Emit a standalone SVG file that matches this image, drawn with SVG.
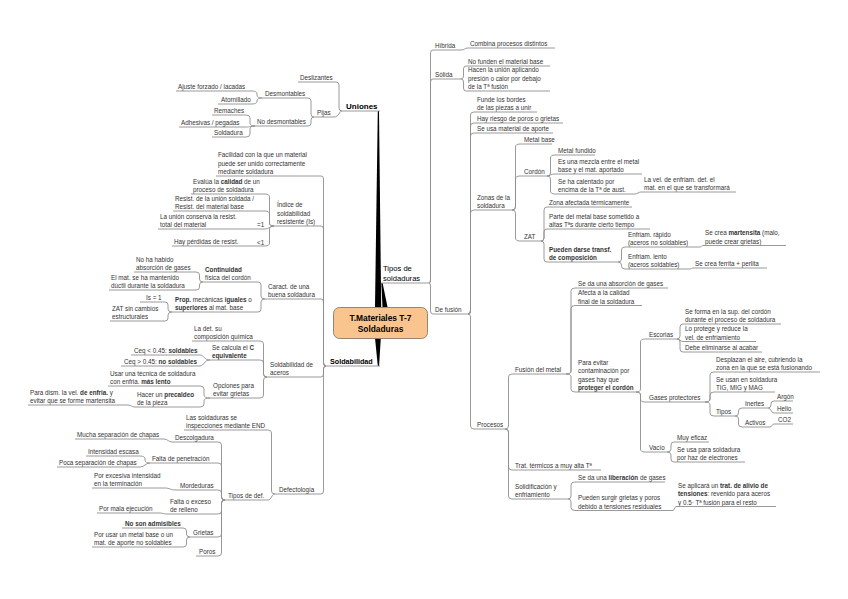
<svg xmlns="http://www.w3.org/2000/svg" width="848" height="599" viewBox="0 0 848 599">
<style>
text{font-family:"Liberation Sans",Arial,sans-serif;font-size:6.3px;fill:#333}
.b{font-weight:bold}
.big{font-size:7.6px;fill:#000}
.u{stroke:#8f8f8f;stroke-width:0.9;fill:none}
.c path{stroke:#8f8f8f;stroke-width:0.9;fill:none}
.trunk{fill:#000}
</style>
<rect width="848" height="599" fill="#fff"/>
<g id="connectors">
<g class="trunks">
<polygon class="trunk" points="377.8,111 379,111 381.2,307 375,307"/>
<polygon class="trunk" points="381.3,283 382.6,283 387.5,307 382.5,307"/>
<polygon class="trunk" points="375,338 380.8,338 379.1,366 377.8,366"/>
</g>
<g class="c">
<path d="M342,111 Q339,111 339,108 V85 Q339,82 336,82"/>
<path d="M342,111 C339,111 339,117 334,117"/>
<path d="M314,117 Q311,117 311,114 V101 Q311,98 308,98"/>
<path d="M314,117 Q311,117 311,120 V123 Q311,126 308,126"/>
<path d="M262,98 Q257,98 257,95 V94 Q257,91 252,91"/>
<path d="M262,98 Q257,98 257,101 Q257,104 252,104"/>
<path d="M255,126 Q250,126 250,123 V118 Q250,115 246,115"/>
<path d="M255,126 C250,126 250,127 246,127"/>
<path d="M255,126 Q250,126 250,129 V134 Q250,137 246,137"/>
<path d="M326,366 Q323.5,366 323.5,363 V179 Q323.5,176 321,176"/>
<path d="M326,366 Q323.5,366 323.5,363 V229 Q323.5,226 321,226"/>
<path d="M326,366 Q323.5,366 323.5,363 V302 Q323.5,299 321,299"/>
<path d="M326,366 Q323.5,366 323.5,369 V374 Q323.5,377 321,377"/>
<path d="M326,366 Q323.5,366 323.5,369 V491 Q323.5,494 321,494"/>
<path d="M274,226 Q269.5,226 269.5,223 V197 Q269.5,194 265,194"/>
<path d="M274,226 Q269.5,226 269.5,223 V214 Q269.5,211 265,211"/>
<path d="M274,226 C269.5,226 269.5,229 265,229"/>
<path d="M274,226 Q269.5,226 269.5,229 V243 Q269.5,246 265,246"/>
<path d="M265,299 Q261,299 261,296 V285 Q261,282 258,282"/>
<path d="M265,299 Q261,299 261,302 V309 Q261,312 258,312"/>
<path d="M203,282 Q199.5,282 199.5,279 V275 Q199.5,272 196,272"/>
<path d="M203,282 Q199.5,282 199.5,285 V287 Q199.5,290 196,290"/>
<path d="M172,312 Q168,312 168,309 V305 Q168,302 165,302"/>
<path d="M172,312 Q168,312 168,315 V318 Q168,321 165,321"/>
<path d="M267,377 Q263.5,377 263.5,374 V344 Q263.5,341 260,341"/>
<path d="M267,377 Q263.5,377 263.5,374 V363 Q263.5,360 260,360"/>
<path d="M267,377 Q263.5,377 263.5,380 V395 Q263.5,398 260,398"/>
<path d="M210,360 C204,360 204,355 200,355"/>
<path d="M210,360 C204,360 204,366 200,366"/>
<path d="M210,398 Q204,398 204,395 V389 Q204,386 200,386"/>
<path d="M210,398 Q204,398 204,401 V404 Q204,407 200,407"/>
<path d="M135,407 C131,407 132,405 128,405"/>
<path d="M275,494 Q271.5,494 271.5,491 V433 Q271.5,430 268,430"/>
<path d="M275,494 C271.5,494 271.5,500 268,500"/>
<path d="M225,500 Q221.5,500 221.5,497 V445 Q221.5,442 218,442"/>
<path d="M225,500 Q221.5,500 221.5,497 V466 Q221.5,463 218,463"/>
<path d="M225,500 Q221.5,500 221.5,497 V493 Q221.5,490 218,490"/>
<path d="M225,500 Q221.5,500 221.5,503 V511 Q221.5,514 218,514"/>
<path d="M225,500 Q221.5,500 221.5,503 V534 Q221.5,537 218,537"/>
<path d="M225,500 Q221.5,500 221.5,503 V553 Q221.5,556 218,556"/>
<path d="M172,442 C168,442 168,439 164,439"/>
<path d="M150,463 Q145,463 145,460 V459 Q145,456 140,456"/>
<path d="M150,463 C145,463 145,467 140,467"/>
<path d="M176,490 C170,490 170,488 165,488"/>
<path d="M167,514 C163,514 163,513 160,513"/>
<path d="M190,537 Q186.5,537 186.5,534 V531 Q186.5,528 183,528"/>
<path d="M190,537 Q186.5,537 186.5,540 V544 Q186.5,547 183,547"/>
<path d="M429,283 Q430.5,283 430.5,280 V53 Q430.5,50 433,50"/>
<path d="M429,283 Q430.5,283 430.5,280 V82 Q430.5,79 433,79"/>
<path d="M429,283 Q430.5,283 430.5,286 V311 Q430.5,314 433,314"/>
<path d="M461,50 C465,50 464,48 468,48"/>
<path d="M461,79 Q463.5,79 463.5,76 V69 Q463.5,66 466,66"/>
<path d="M461,79 Q463.5,79 463.5,82 V88 Q463.5,91 466,91"/>
<path d="M468,314 Q470.5,314 470.5,311 V115 Q470.5,112 474,112"/>
<path d="M468,314 Q470.5,314 470.5,311 V126 Q470.5,123 474,123"/>
<path d="M468,314 Q470.5,314 470.5,311 V136 Q470.5,133 474,133"/>
<path d="M468,314 Q470.5,314 470.5,311 V213 Q470.5,210 474,210"/>
<path d="M468,314 Q470.5,314 470.5,317 V426 Q470.5,429 474,429"/>
<path d="M512,210 Q515.5,210 515.5,207 V147 Q515.5,144 520,144"/>
<path d="M512,210 Q515.5,210 515.5,207 V179 Q515.5,176 520,176"/>
<path d="M512,210 Q515.5,210 515.5,213 V238 Q515.5,241 520,241"/>
<path d="M547,176 Q550.5,176 550.5,173 V158 Q550.5,155 555,155"/>
<path d="M547,176 C550.5,176 550.5,174 555,174"/>
<path d="M547,176 Q550.5,176 550.5,179 V191 Q550.5,194 555,194"/>
<path d="M635,194 C638,194 638,192 641,192"/>
<path d="M541,241 Q544,241 544,238 V210 Q544,207 547,207"/>
<path d="M541,241 Q544,241 544,238 V232 Q544,229 547,229"/>
<path d="M541,241 Q544,241 544,244 V259 Q544,262 547,262"/>
<path d="M618,262 Q621.5,262 621.5,259 V250 Q621.5,247 625,247"/>
<path d="M618,262 Q621.5,262 621.5,265 V266 Q621.5,269 625,269"/>
<path d="M700,247 C701.5,247 701.5,245.5 703,245.5"/>
<path d="M690,269 C691.5,269 691.5,268 693,268"/>
<path d="M505,429 Q508.5,429 508.5,426 V377 Q508.5,374 512,374"/>
<path d="M505,429 Q508.5,429 508.5,432 V467 Q508.5,470 512,470"/>
<path d="M505,429 Q508.5,429 508.5,432 V496 Q508.5,499 512,499"/>
<path d="M566,374 Q571,374 571,371 V291 Q571,288 575,288"/>
<path d="M566,374 Q571,374 571,371 V308.5 Q571,305.5 575,305.5"/>
<path d="M566,374 Q571,374 571,377 V389 Q571,392 575,392"/>
<path d="M636,392 Q640.5,392 640.5,389 V342 Q640.5,339 645,339"/>
<path d="M636,392 Q640.5,392 640.5,395 V399 Q640.5,402 645,402"/>
<path d="M636,392 Q640.5,392 640.5,395 V449 Q640.5,452 645,452"/>
<path d="M677,339 Q680,339 680,336 V327 Q680,324 683,324"/>
<path d="M677,339 C680,339 680,341.5 683,341.5"/>
<path d="M677,339 Q680,339 680,342 V349 Q680,352 683,352"/>
<path d="M705,402 Q710,402 710,399 V375 Q710,372 714,372"/>
<path d="M705,402 Q710,402 710,399 V395 Q710,392 714,392"/>
<path d="M705,402 Q710,402 710,405 V413 Q710,416 714,416"/>
<path d="M735,416 Q738.5,416 738.5,413 V411 Q738.5,408 742,408"/>
<path d="M735,416 Q738.5,416 738.5,419 V424 Q738.5,427 742,427"/>
<path d="M768,408 Q771,408 771,405 V404 Q771,401 774,401"/>
<path d="M768,408 C771,408 771,413 774,413"/>
<path d="M770,427 C772,427 772,424 774,424"/>
<path d="M667,452 Q671,452 671,449 V445 Q671,442 674,442"/>
<path d="M667,452 Q671,452 671,455 V459 Q671,462 674,462"/>
<path d="M568,499 Q571,499 571,496 V485 Q571,482 575,482"/>
<path d="M568,499 Q571,499 571,502 V507.5 Q571,510.5 575,510.5"/>
<path d="M673,510.5 C674.5,510.5 674.5,506.5 676,506.5"/>
</g>
</g>

<g id="n-central">
<rect x="333.5" y="307.5" width="94" height="31" rx="6" fill="#FAC48F" stroke="#8a7a6a" stroke-width="0.9"/>
<text x="380.5" y="321" text-anchor="middle" class="b" style="font-size:8.4px;fill:#000">T.Materiales T-7</text>
<text x="380.5" y="332" text-anchor="middle" class="b" style="font-size:8.4px;fill:#000">Soldaduras</text>
</g>

<!-- LEFT: Uniones -->
<g id="n-uniones"><text x="346" y="108.5" class="b big" style="font-size:8px">Uniones</text><path class="u" d="M342,111 H380"/></g>
<g id="n-deslizantes"><text x="300" y="80">Deslizantes</text><path class="u" d="M298,82 H336"/></g>
<g id="n-pijas"><text x="317" y="115">Pijas</text><path class="u" d="M314,117 H334"/></g>
<g id="n-desmontables"><text x="265" y="96">Desmontables</text><path class="u" d="M262,98 H308"/></g>
<g id="n-nodesmontables"><text x="257" y="124">No desmontables</text><path class="u" d="M255,126 H308"/></g>
<g id="n-ajuste"><text x="178" y="89">Ajuste forzado / lacadas</text><path class="u" d="M176,91 H252"/></g>
<g id="n-atornillado"><text x="221" y="102">Atornillado</text><path class="u" d="M218,104 H252"/></g>
<g id="n-remaches"><text x="214" y="113">Remaches</text><path class="u" d="M212,115 H246"/></g>
<g id="n-adhesivas"><text x="181" y="125">Adhesivas / pegadas</text><path class="u" d="M179,127 H246"/></g>
<g id="n-soldadura"><text x="214" y="135">Soldadura</text><path class="u" d="M212,137 H246"/></g>

<!-- LEFT: Soldabilidad -->
<g id="n-soldabilidad"><text x="330" y="364" class="b big" style="font-size:7.2px">Soldabilidad</text><path class="u" d="M326,366 H380"/></g>
<g id="n-facilidad"><text x="218" y="157">Facilidad con la que un material<tspan x="218" dy="8.5">puede ser unido correctamente</tspan><tspan x="218" dy="8.5">mediante soldadura</tspan></text><path class="u" d="M216,176 H321"/></g>
<g id="n-indice"><text x="277" y="207">Índice de<tspan x="277" dy="8.5">soldabilidad</tspan><tspan x="277" dy="8.5">resistente  (Is)</tspan></text><path class="u" d="M274,226 H321"/></g>
<g id="n-evalua"><text x="193" y="183.5">Evalúa la <tspan class="b">calidad</tspan> de un<tspan x="193" dy="8.5">proceso de soldadura</tspan></text><path class="u" d="M191,194 H265"/></g>
<g id="n-resist"><text x="175" y="200.5">Resist. de la unión soldada /<tspan x="175" dy="8.5">Resist. del material base</tspan></text><path class="u" d="M173,211 H265"/></g>
<g id="n-launion"><text x="160" y="218.5">La unión conserva la resist.<tspan x="160" dy="8.5">total del material</tspan></text><text x="257" y="227">=1</text><path class="u" d="M158,229 H265"/></g>
<g id="n-hayperdidas"><text x="174" y="244">Hay pérdidas de resist.</text><text x="257" y="244.5">&lt;1</text><path class="u" d="M172,246 H265"/></g>
<g id="n-caract"><text x="268" y="288.5">Caract. de una<tspan x="268" dy="8.5">buena soldadura</tspan></text><path class="u" d="M265,299 H321"/></g>
<g id="n-continuidad"><text x="205" y="271.5" class="b">Continuidad<tspan x="205" dy="8.5" style="font-weight:normal">física del cordón</tspan></text><path class="u" d="M203,282 H258"/></g>
<g id="n-nohahabido"><text x="136" y="261.5">No ha habido<tspan x="136" dy="8.5">absorción de gases</tspan></text><path class="u" d="M134,272 H196"/></g>
<g id="n-elmat"><text x="111" y="279.5">El mat. se ha mantenido<tspan x="111" dy="8.5">dúctil durante la soldadura</tspan></text><path class="u" d="M109,290 H196"/></g>
<g id="n-prop"><text x="175" y="301.5"><tspan class="b">Prop.</tspan> mecánicas <tspan class="b">iguales</tspan> o<tspan x="175" dy="8.5" class="b">superiores</tspan> al mat. base</text><path class="u" d="M172,312 H258"/></g>
<g id="n-is1"><text x="146" y="300">Is = 1</text><path class="u" d="M140,302 H165"/></g>
<g id="n-zatsin"><text x="112" y="310.5">ZAT sin cambios<tspan x="112" dy="8.5">estructurales</tspan></text><path class="u" d="M110,321 H165"/></g>
<g id="n-soldaceros"><text x="270" y="366.5">Soldabilidad de<tspan x="270" dy="8.5">aceros</tspan></text><path class="u" d="M267,377 H321"/></g>
<g id="n-ladet"><text x="194" y="330.5">La det. su<tspan x="194" dy="8.5">composición química</tspan></text><path class="u" d="M192,341 H260"/></g>
<g id="n-secalcula"><text x="212" y="349.5">Se calcula el <tspan class="b">C</tspan><tspan x="212" dy="8.5" class="b">equivalente</tspan></text><path class="u" d="M210,360 H260"/></g>
<g id="n-ceqmenor"><text x="134" y="353">Ceq &lt; 0.45:  <tspan class="b">soldables</tspan></text><path class="u" d="M131,355 H200"/></g>
<g id="n-ceqmayor"><text x="124" y="364">Ceq &gt; 0.45:  <tspan class="b">no soldables</tspan></text><path class="u" d="M121,366 H200"/></g>
<g id="n-opciones"><text x="213" y="387.5">Opciones para<tspan x="213" dy="8.5">evitar grietas</tspan></text><path class="u" d="M210,398 H260"/></g>
<g id="n-usar"><text x="110" y="375.5">Usar una técnica de soldadura<tspan x="110" dy="8.5">con enfria.  </tspan><tspan class="b">más lento</tspan></text><path class="u" d="M108,386 H200"/></g>
<g id="n-hacer"><text x="137" y="396.5">Hacer un <tspan class="b">precaldeo</tspan><tspan x="137" dy="8.5">de la pieza</tspan></text><path class="u" d="M135,407 H200"/></g>
<g id="n-paradism"><text x="30" y="394.5">Para dism. la vel. <tspan class="b">de enfria.</tspan>  y<tspan x="30" dy="8.5">evitar que se forme martensita</tspan></text><path class="u" d="M28,405 H128"/></g>
<g id="n-defectologia"><text x="279" y="492">Defectología</text><path class="u" d="M275,494 H321"/></g>
<g id="n-lassoldaduras"><text x="186" y="419.5">Las soldaduras se<tspan x="186" dy="8.5">inspecciones mediante END</tspan></text><path class="u" d="M184,430 H268"/></g>
<g id="n-tiposdef"><text x="228" y="498">Tipos de def.</text><path class="u" d="M225,500 H268"/></g>
<g id="n-descolgadura"><text x="175" y="440">Descolgadura</text><path class="u" d="M172,442 H218"/></g>
<g id="n-mucha"><text x="77" y="437">Mucha separación de chapas</text><path class="u" d="M75,439 H164"/></g>
<g id="n-faltapen"><text x="152" y="461">Falta de penetración</text><path class="u" d="M150,463 H218"/></g>
<g id="n-intensidad"><text x="88" y="454">Intensidad escasa</text><path class="u" d="M86,456 H140"/></g>
<g id="n-poca"><text x="59" y="465">Poca separación de chapas</text><path class="u" d="M57,467 H140"/></g>
<g id="n-mordeduras"><text x="180" y="488">Mordeduras</text><path class="u" d="M176,490 H218"/></g>
<g id="n-porexcesiva"><text x="94" y="477.5">Por excesiva intensidad<tspan x="94" dy="8.5">en la terminación</tspan></text><path class="u" d="M92,488 H165"/></g>
<g id="n-faltaexceso"><text x="170" y="503.5">Falta o exceso<tspan x="170" dy="8.5">de relleno</tspan></text><path class="u" d="M167,514 H218"/></g>
<g id="n-pormala"><text x="99" y="511">Por mala ejecución</text><path class="u" d="M97,513 H160"/></g>
<g id="n-grietas"><text x="193" y="535">Grietas</text><path class="u" d="M190,537 H218"/></g>
<g id="n-noson"><text x="125" y="526" class="b">No son admisibles</text><path class="u" d="M122,528 H183"/></g>
<g id="n-porusar"><text x="94" y="536.5">Por usar un metal base o un<tspan x="94" dy="8.5">mat. de aporte no soldables</tspan></text><path class="u" d="M92,547 H183"/></g>
<g id="n-poros"><text x="199" y="554">Poros</text><path class="u" d="M196,556 H218"/></g>

<!-- RIGHT: Tipos de soldaduras -->
<g id="n-tipossold"><text x="383" y="271" class="big">Tipos de<tspan x="383" dy="9.5">soldaduras</tspan></text><path class="u" d="M381,283 H429"/></g>
<g id="n-hibrida"><text x="435" y="48">Híbrida</text><path class="u" d="M433,50 H461"/></g>
<g id="n-combina"><text x="470" y="46">Combina procesos distintos</text><path class="u" d="M468,48 H555"/></g>
<g id="n-solida"><text x="435" y="77">Sólida</text><path class="u" d="M433,79 H461"/></g>
<g id="n-nofunden"><text x="468" y="64">No funden el material base</text><path class="u" d="M466,66 H550"/></g>
<g id="n-hacen"><text x="468" y="72">Hacen la unión aplicando<tspan x="468" dy="8.5">presión o calor por debajo</tspan><tspan x="468" dy="8.5">de la Tª fusión</tspan></text><path class="u" d="M466,91 H550"/></g>
<g id="n-defusion"><text x="435" y="312">De fusión</text><path class="u" d="M433,314 H468"/></g>
<g id="n-funde"><text x="477" y="101.5">Funde los bordes<tspan x="477" dy="8.5">de las piezas a unir</tspan></text><path class="u" d="M474,112 H537"/></g>
<g id="n-hayriesgo"><text x="477" y="121">Hay riesgo de poros o grietas</text><path class="u" d="M474,123 H563"/></g>
<g id="n-seusa"><text x="477" y="131">Se usa material de aporte</text><path class="u" d="M474,133 H553"/></g>
<g id="n-zonas"><text x="477" y="199.5">Zonas de la<tspan x="477" dy="8.5">soldadura</tspan></text><path class="u" d="M474,210 H512"/></g>
<g id="n-metalbase"><text x="524" y="142">Metal base</text><path class="u" d="M520,144 H552"/></g>
<g id="n-cordon"><text x="524" y="174">Cordón</text><path class="u" d="M520,176 H547"/></g>
<g id="n-metalfundido"><text x="558" y="153">Metal fundido</text><path class="u" d="M555,155 H595"/></g>
<g id="n-mezcla"><text x="558" y="163.5">Es una mezcla entre el metal<tspan x="558" dy="8.5">base y el mat. aportado</tspan></text><path class="u" d="M555,174 H642"/></g>
<g id="n-calentado"><text x="558" y="183.5">Se ha calentado por<tspan x="558" dy="8.5">encima de la Tª de aust.</tspan></text><path class="u" d="M555,194 H635"/></g>
<g id="n-lavel"><text x="644" y="181.5">La vel. de enfriam. det. el<tspan x="644" dy="8.5">mat. en el que se transformará</tspan></text><path class="u" d="M641,192 H736"/></g>
<g id="n-zat"><text x="524" y="239">ZAT</text><path class="u" d="M520,241 H541"/></g>
<g id="n-zonaafectada"><text x="549" y="205">Zona afectada térmicamente</text><path class="u" d="M547,207 H632"/></g>
<g id="n-parte"><text x="549" y="218.5">Parte del metal base sometido a<tspan x="549" dy="8.5">altas Tªs durante cierto tiempo</tspan></text><path class="u" d="M547,229 H650"/></g>
<g id="n-pueden"><text x="549" y="251.5" class="b">Pueden darse transf.<tspan x="549" dy="8.5">de composición</tspan></text><path class="u" d="M547,262 H618"/></g>
<g id="n-rapido"><text x="628" y="236.5">Enfriam. rápido<tspan x="628" dy="8.5">(aceros no soldables)</tspan></text><path class="u" d="M625,247 H700"/></g>
<g id="n-martensita"><text x="705" y="235">Se crea <tspan class="b">martensita</tspan> (malo,<tspan x="705" dy="8.5">puede crear grietas)</tspan></text><path class="u" d="M703,245.5 H786"/></g>
<g id="n-lento"><text x="628" y="258.5">Enfriam. lento<tspan x="628" dy="8.5">(aceros soldables)</tspan></text><path class="u" d="M625,269 H690"/></g>
<g id="n-ferrita"><text x="695" y="266">Se crea ferrita + perlita</text><path class="u" d="M693,268 H767"/></g>
<g id="n-procesos"><text x="477" y="427">Procesos</text><path class="u" d="M474,429 H505"/></g>
<g id="n-fusionmetal"><text x="515" y="372">Fusión del metal</text><path class="u" d="M512,374 H566"/></g>
<g id="n-absorcion"><text x="578" y="286">Se da una absorción de gases</text><path class="u" d="M575,288 H668"/></g>
<g id="n-afecta"><text x="578" y="295">Afecta a la calidad<tspan x="578" dy="8.5">final de la soldadura</tspan></text><path class="u" d="M575,305.5 H642"/></g>
<g id="n-paraevitar"><text x="578" y="364.5">Para evitar<tspan x="578" dy="8.5">contaminación por</tspan><tspan x="578" dy="8.5">gases hay que</tspan><tspan x="578" dy="8.5" class="b">proteger el cordón</tspan></text><path class="u" d="M575,392 H636"/></g>
<g id="n-escorias"><text x="649" y="337">Escorias</text><path class="u" d="M645,339 H677"/></g>
<g id="n-seforma"><text x="685" y="313.5">Se forma en la sup. del cordón<tspan x="685" dy="8.5">durante el proceso de soldadura</tspan></text><path class="u" d="M683,324 H781"/></g>
<g id="n-loprotege"><text x="685" y="331">Lo protege y reduce la<tspan x="685" dy="8.5">vel. de enfriamiento</tspan></text><path class="u" d="M683,341.5 H756"/></g>
<g id="n-debe"><text x="685" y="350">Debe eliminarse al acabar</text><path class="u" d="M683,352 H762"/></g>
<g id="n-gases"><text x="649" y="400">Gases protectores</text><path class="u" d="M645,402 H705"/></g>
<g id="n-desplazan"><text x="716" y="361.5">Desplazan el aire, cubriendo la<tspan x="716" dy="8.5">zona en la que se está fusionando</tspan></text><path class="u" d="M714,372 H820"/></g>
<g id="n-seusan"><text x="716" y="381.5">Se usan en soldadura<tspan x="716" dy="8.5">TIG, MIG y MAG</tspan></text><path class="u" d="M714,392 H775"/></g>
<g id="n-tipos"><text x="716" y="414">Tipos</text><path class="u" d="M714,416 H735"/></g>
<g id="n-inertes"><text x="745" y="406">Inertes</text><path class="u" d="M742,408 H768"/></g>
<g id="n-activos"><text x="745" y="425">Activos</text><path class="u" d="M742,427 H770"/></g>
<g id="n-argon"><text x="777" y="399">Argón</text><path class="u" d="M774,401 H793"/></g>
<g id="n-helio"><text x="777" y="411">Helio</text><path class="u" d="M774,413 H793"/></g>
<g id="n-co2"><text x="778" y="422">CO2</text><path class="u" d="M774,424 H793"/></g>
<g id="n-vacio"><text x="649" y="450">Vacío</text><path class="u" d="M645,452 H667"/></g>
<g id="n-muyeficaz"><text x="677" y="440">Muy eficaz</text><path class="u" d="M674,442 H709"/></g>
<g id="n-seusapara"><text x="677" y="451.5">Se usa para soldadura<tspan x="677" dy="8.5">por haz de electrones</tspan></text><path class="u" d="M674,462 H745"/></g>
<g id="n-trat"><text x="515" y="468">Trat. térmicos a muy alta Tª</text><path class="u" d="M512,470 H601"/></g>
<g id="n-solidif"><text x="515" y="488.5">Solidificación y<tspan x="515" dy="8.5">enfriamiento</tspan></text><path class="u" d="M512,499 H568"/></g>
<g id="n-liberacion"><text x="578" y="480">Se da una <tspan class="b">liberación</tspan> de gases</text><path class="u" d="M575,482 H665"/></g>
<g id="n-surgir"><text x="578" y="500">Pueden surgir grietas y poros<tspan x="578" dy="8.5">debido a tensiones residuales</tspan></text><path class="u" d="M575,510.5 H673"/></g>
<g id="n-aplicara"><text x="678" y="487.5">Se aplicará un  <tspan class="b">trat. de alivio de</tspan><tspan x="678" dy="8.5" class="b">tensiones</tspan>: revenido para aceros<tspan x="678" dy="8.5">y 0.5· Tª fusión para el resto</tspan></text><path class="u" d="M676,506.5 H776"/></g>
</svg>
